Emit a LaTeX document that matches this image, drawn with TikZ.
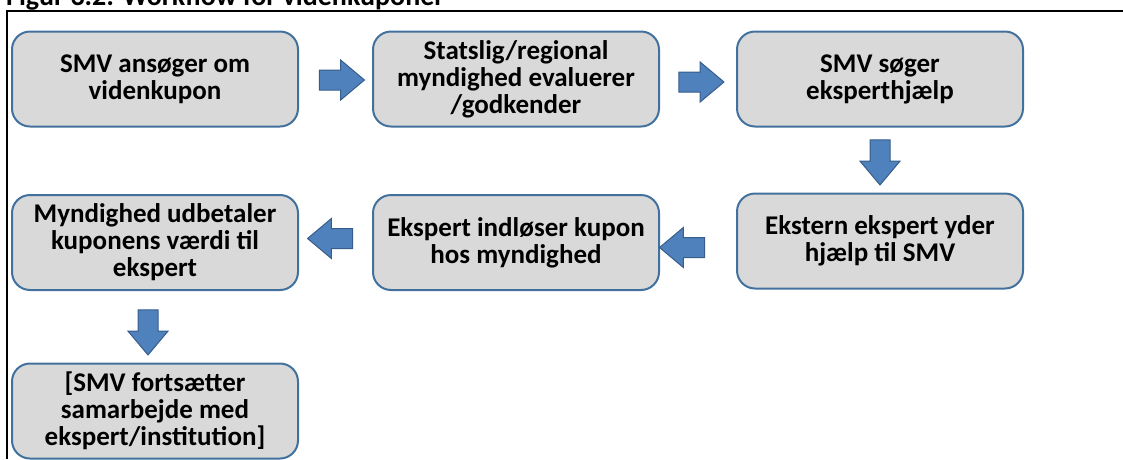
\documentclass[tikz,border=0pt]{standalone}
\usepackage{fontspec}
\setmainfont{Carlito}
\usetikzlibrary{shapes.arrows}

\definecolor{boxline}{HTML}{41719C}
\definecolor{boxfill}{HTML}{D9D9D9}
\definecolor{arrfill}{HTML}{4F81BD}
\definecolor{arrline}{HTML}{385D8A}

\tikzset{
    stepbox/.style={draw=boxline, line width=2pt, fill=boxfill, rounded corners=18pt,
        minimum width=286pt, minimum height=95pt, align=center, inner sep=2pt,
        font=\fontsize{27}{27}\selectfont\bfseries},
    blockarrow/.style={single arrow, draw=arrline, fill=arrfill, line width=1pt,
        inner xsep=0pt, inner ysep=9.5pt, minimum height=45pt,
        single arrow head extend=10pt, single arrow tip angle=80},
}

\begin{document}
\begin{tikzpicture}[x=1pt, y=-1pt]
            \clip (0, 0) rectangle (1123, 459);
            % title and frame
            \node[anchor=base west, inner sep=0pt, font=\fontsize{28}{28}\selectfont\bfseries] (title) at (6, 5) {Figur 3.2: Workflow for videnkuponer};
            \draw[line width=2pt] (1123, 11) -- (7, 11) -- (7, 459);
            % boxes
            \node[stepbox] (ansoeg) at (155, 79) {SMV ansøger om\\videnkupon};
            \node[stepbox] (evaluer) at (516, 79) {Statslig/regional\\myndighed evaluerer\\/godkender};
            \node[stepbox] (soeg) at (880, 79) {SMV søger\\eksperthjælp};
            \node[stepbox] (hjaelp) at (880, 241) {Ekstern ekspert yder\\hjælp til SMV};
            \node[stepbox] (indloes) at (516, 242.5) {Ekspert indløser kupon\\hos myndighed};
            \node[stepbox] (udbetal) at (155, 242.5) {Myndighed udbetaler\\kuponens værdi til\\ekspert};
            \node[stepbox] (fortsaet) at (155, 411) {[SMV fortsætter\\samarbejde med\\ekspert/institution]};
            % arrows between the steps
            \node[blockarrow] (pil1) at (336, 80) {};
            \node[blockarrow] (pil2) at (695.5, 82) {};
            \node[blockarrow, rotate=-90] (pil3) at (880, 156.5) {};
            \node[blockarrow, rotate=180] (pil4) at (688, 247.5) {};
            \node[blockarrow, rotate=180] (pil5) at (336, 238.5) {};
            \node[blockarrow, rotate=-90] (pil6) at (148, 326.5) {};
\end{tikzpicture}
\end{document}
